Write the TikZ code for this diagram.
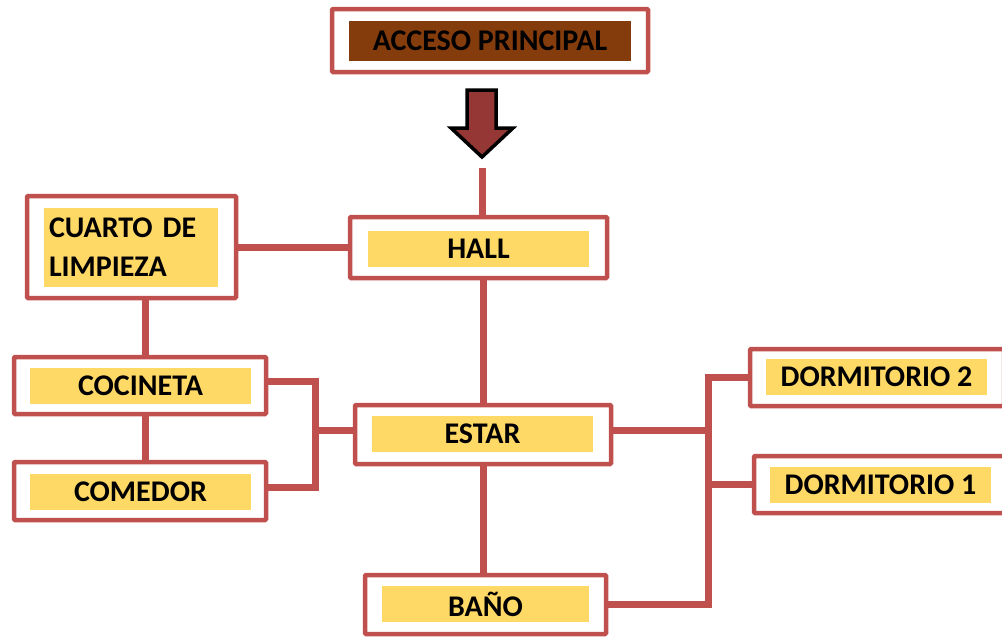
\documentclass[tikz,border=0pt]{standalone}
\usepackage{fontspec}
\setmainfont{Carlito}
\usetikzlibrary{positioning,calc}

\definecolor{boxred}{RGB}{192,80,77}
\definecolor{tagyellow}{RGB}{255,217,102}
\definecolor{tagbrown}{RGB}{132,60,12}
\definecolor{arrowred}{RGB}{149,55,53}

\begin{document}
\begin{tikzpicture}[
  x=1pt, y=-1pt,
  room/.style={draw=boxred, line width=4.5pt, fill=white, rounded corners=1pt, minimum width=252pt, minimum height=58pt, inner sep=0pt},
  tag/.style={fill=tagyellow, minimum width=221pt, minimum height=36pt, inner sep=0pt, font=\bfseries\fontsize{30}{39}\selectfont},
  link/.style={draw=boxred, line width=7pt}
]
\useasboundingbox (0,0) rectangle (1002,637);

% entrance
\node[room, minimum width=316pt, minimum height=63pt] (acceso) at (490,40.5) {};
\node[tag, fill=tagbrown, minimum width=282pt, minimum height=40pt] (accesotag) at (490,41) {ACCESO PRINCIPAL};
\draw[fill=arrowred, draw=black, line width=3.5pt]
  (467,90) -- (496,90) -- (496,128) -- (513,128) -- (482,157) -- (451,128) -- (467,128) -- cycle;
\coordinate (entry) at (482,168);

% rooms
\node[room, minimum width=257pt, minimum height=61pt] (hall) at (478.5,247.5) {};
\node[tag] (halltag) at (478.5,248.5) {HALL};

\node[room, minimum width=209pt, minimum height=102pt] (cuarto) at (131.5,247) {};
\node[tag, minimum width=174pt, minimum height=79pt, text width=164pt, inner sep=5pt, align=left] (cuartotag) at (131,247.5) {CUARTO DE\\LIMPIEZA};

\node[room, minimum height=57pt] (cocineta) at (140,385.5) {};
\node[tag] (cocinetatag) at (140.5,386) {COCINETA};

\node[room] (comedor) at (140,491) {};
\node[tag] (comedortag) at (140.5,491.5) {COMEDOR};

\node[room, minimum width=256pt, minimum height=59pt] (estar) at (483,434.5) {};
\node[tag] (estartag) at (482.5,434) {ESTAR};

\node[room, minimum width=241pt, minimum height=59pt] (bano) at (485.5,604.5) {};
\node[tag, minimum width=207pt] (banotag) at (485.5,604) {BAÑO};

\node[room, minimum width=254pt, minimum height=57pt] (dorm2) at (877,377.5) {};
\node[tag] (dorm2tag) at (876.5,377) {DORMITORIO 2};

\node[room, minimum width=254pt, minimum height=57pt] (dorm1) at (881,484.5) {};
\node[tag] (dorm1tag) at (880.5,485) {DORMITORIO 1};

% connectors
\coordinate (lbus) at (315,430);
\coordinate (rbus) at (708,430);

\draw[link] (entry) -- (entry |- hall.north);
\draw[link] (cuarto.east) -- (cuarto.east -| hall.west);
\draw[link] (estar.north |- hall.south) -- (estar.north);
\draw[link] ([xshift=5pt]cocineta.north |- cuarto.south) -- ([xshift=5pt]cocineta.north);
\draw[link] ([xshift=5pt]cocineta.south) -- ([xshift=5pt]cocineta.south |- comedor.north);
\draw[link] ([yshift=4.5pt]cocineta.east) -| (lbus) |- ([yshift=4pt]comedor.east);
\draw[link] (lbus) -- ([yshift=4.5pt]estar.west);
\draw[link] ([yshift=4.5pt]estar.east) -- (rbus);
\draw[link] (dorm2.west) -| (rbus) |- (bano.east);
\draw[link] (rbus |- dorm1.west) -- (dorm1.west);
\draw[link] (estar.south) -- (estar.south |- bano.north);

\end{tikzpicture}
\end{document}
